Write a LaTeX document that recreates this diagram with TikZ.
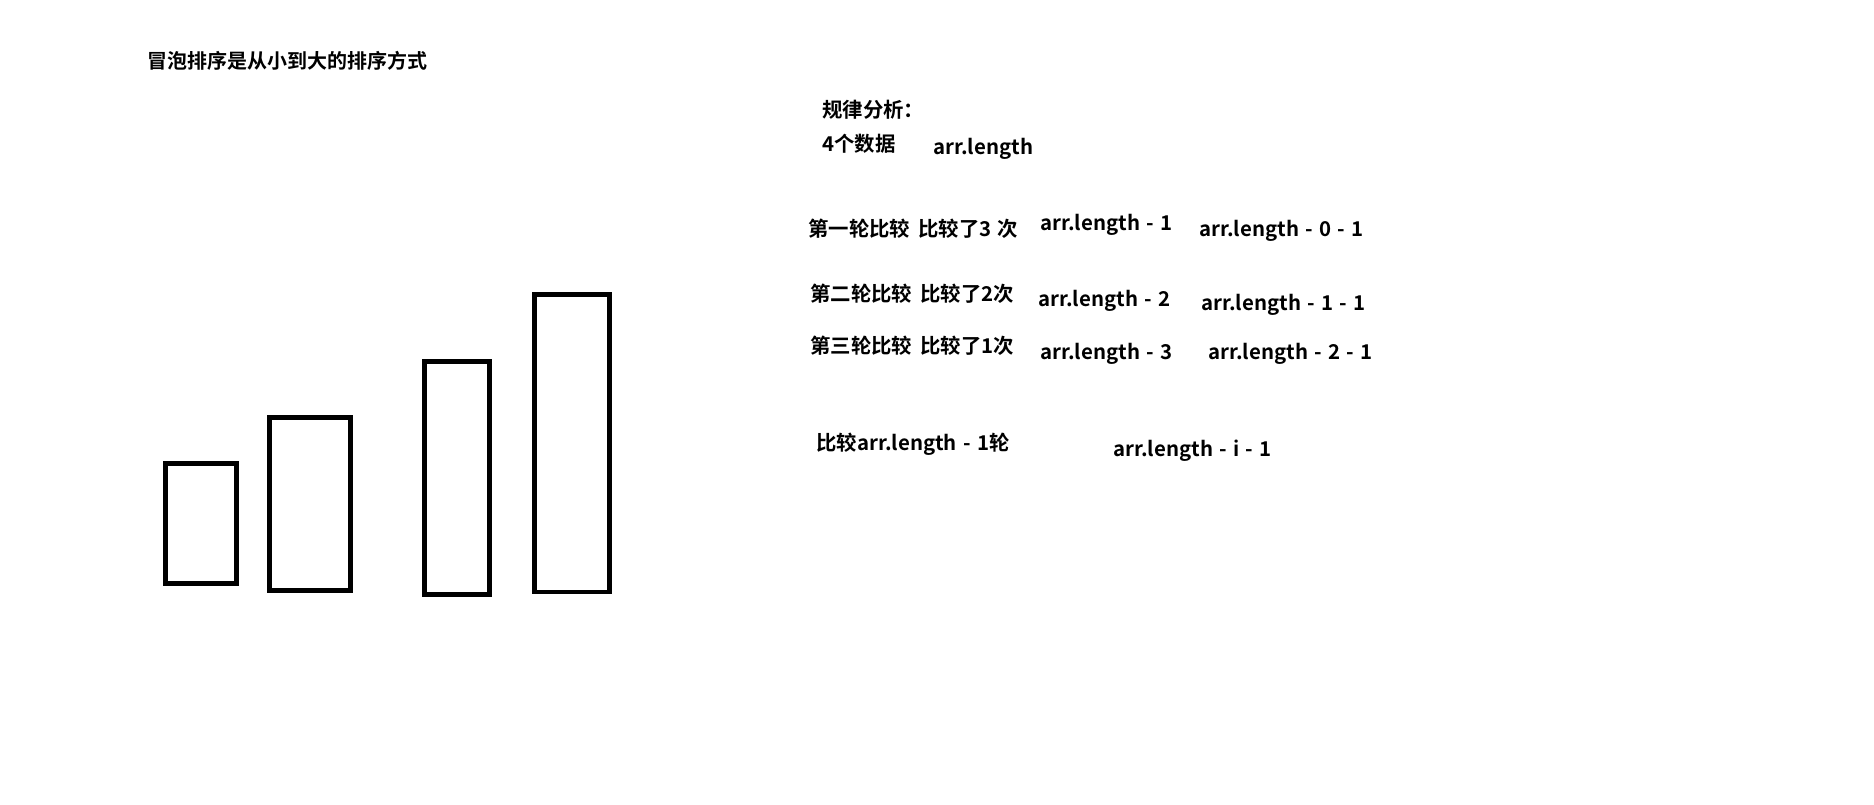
\documentclass[tikz,border=0pt]{standalone}
\usepackage{fontspec}
\setmainfont{Noto Sans CJK SC}[BoldFont={Noto Sans CJK SC Bold}]
\newcommand\mylblfont{\fontsize{15.3pt}{17pt}\selectfont\bfseries\spaceskip 0.31em\relax}
\begin{document}
\begin{tikzpicture}[x=0.75pt,y=-0.75pt,
  lbl/.style={anchor=west,inner sep=0pt,font=\mylblfont},
  ttl/.style={anchor=west,inner sep=0pt,font=\fontsize{15pt}{17pt}\selectfont\bfseries},
  bar/.style={draw=black,line width=3.5pt}]
\useasboundingbox (0,0) rectangle (1874,804);
\node[ttl] (title) at (147,61) {冒泡排序是从小到大的排序方式};
\draw[bar] (165.6,463.3) rectangle (236.3,583.7);
\draw[bar] (269.3,417.3) rectangle (350.3,590.3);
\draw[bar] (424.3,361.3) rectangle (489.3,594.3);
\draw[bar] (534.3,294.7) rectangle (609.3,592);
\node[lbl] (rule) at (822,110) {规律分析：};
\node[lbl] (four) at (822,144) {4个数据};
\node[lbl] (len) at (933,149) {arr.length};
\node[lbl] (r1) at (808,229) {第一轮比较\hspace{0.4em}比较了3 次};
\node[lbl] (r1a) at (1040,225) {arr.length - 1};
\node[lbl] (r1b) at (1199,231) {arr.length - 0 - 1};
\node[lbl] (r2) at (810,294) {第二轮比较\hspace{0.4em}比较了2次};
\node[lbl] (r2a) at (1038,301) {arr.length - 2};
\node[lbl] (r2b) at (1201,305) {arr.length - 1 - 1};
\node[lbl] (r3) at (810,346) {第三轮比较\hspace{0.4em}比较了1次};
\node[lbl] (r3a) at (1040,354) {arr.length - 3};
\node[lbl] (r3b) at (1208,354) {arr.length - 2 - 1};
\node[lbl] (tot) at (816,444) {比较arr.length - 1轮};
\node[lbl] (gen) at (1113,451) {arr.length - i - 1};
\end{tikzpicture}
\end{document}
